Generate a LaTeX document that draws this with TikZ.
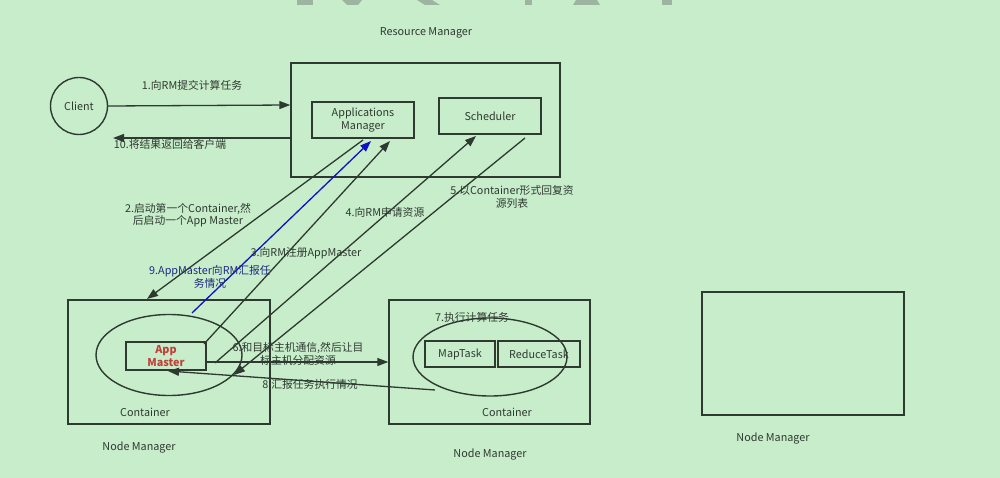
\documentclass[tikz,border=0pt]{standalone}
\usepackage{fontspec}
\setmainfont{Noto Sans CJK SC}
\usetikzlibrary{arrows.meta,shapes.geometric}
\definecolor{bg}{HTML}{C8EDCB}
\definecolor{ln}{HTML}{2E3A30}
\definecolor{txt}{HTML}{2F3A31}
\definecolor{wm}{HTML}{9DB5A0}
\definecolor{amred}{HTML}{C0403A}
\definecolor{navy}{HTML}{1F2A80}
\definecolor{blueline}{HTML}{1010C8}
\tikzset{
  box/.style={draw=ln,line width=1.4pt,inner sep=0pt},
  lbl/.style={text=txt,font=\fontsize{10.8}{12.5}\selectfont,inner sep=0pt,align=center},
  arr/.style={draw=ln,line width=1.3pt,-{Triangle[length=11pt,width=8pt]}},
  ell/.style={draw=ln,line width=1.4pt,ellipse,inner sep=0pt}
}
\begin{document}
\begin{tikzpicture}[x=1pt,y=-1pt]
\fill[bg] (0,0) rectangle (1000,478);
\useasboundingbox (0,0) rectangle (1000,478);
% watermark fragments
\fill[wm] (297,0) rectangle (313,5);
\fill[wm] (342,0) -- (362,0) -- (358,5) -- (347,5) -- cycle;
\fill[wm] (417,0) -- (432,0) -- (440,5) -- (425,5) -- cycle;
\fill[wm] (525,0) rectangle (532,5);
\fill[wm] (576,0) -- (597,0) -- (600,5) -- (573,5) -- cycle;
\fill[wm] (662,0) rectangle (672,5);

% Resource Manager
\node[lbl] (rmlbl) at (426,33) {Resource Manager};
\node[box,minimum width=269pt,minimum height=114pt] (rm) at (425.5,120) {};
\node[box,minimum width=102pt,minimum height=36pt,lbl,draw=ln] (am) at (363,120) {Applications\\Manager};
\node[box,minimum width=102pt,minimum height=36pt,lbl,draw=ln] (sch) at (490,116) {Scheduler};

% Client
\node[draw=ln,line width=1.4pt,circle,minimum size=57pt,lbl] (client) at (79,106) {Client};

% Node Manager 1
\node[box,minimum width=202pt,minimum height=124pt] (nm1) at (169,362) {};
\node[ell,minimum width=146pt,minimum height=81pt] (ell1) at (169,355) {};
\node[box,minimum width=80pt,minimum height=28pt,align=center,text=amred,font=\fontsize{10.8}{12.5}\selectfont\bfseries] (app) at (166,356) {App\\Master};
\node[lbl] (c1) at (145,412) {Container};
\node[lbl] (nm1lbl) at (139,448) {Node Manager};

% Node Manager 2
\node[box,minimum width=201pt,minimum height=124pt] (nm2) at (489.5,362) {};
\node[ell,minimum width=154pt,minimum height=78pt] (ell2) at (490,357) {};
\node[box,minimum width=70pt,minimum height=26pt,lbl,draw=ln] (map) at (460,354) {MapTask};
\node[box,minimum width=82pt,minimum height=26pt,lbl,draw=ln] (red) at (539,354) {ReduceTask};
\node[lbl] (c2) at (507,412) {Container};
\node[lbl] (nm2lbl) at (490,455) {Node Manager};
\node[lbl] (l7) at (472,317) {7.执行计算任务};

% Node Manager 3
\node[box,minimum width=202pt,minimum height=123pt] (nm3) at (803,353.5) {};
\node[lbl] (nm3lbl) at (773,439) {Node Manager};

% coordinates for connector ends
\coordinate (a2s) at (363,140);
\coordinate (a2e) at (147,299);
\coordinate (a9s) at (192,313);
\coordinate (a9e) at (371,141);
\coordinate (a3s) at (204,344);
\coordinate (a3e) at (390,141);
\coordinate (a4s) at (215,363);
\coordinate (a4e) at (476,136);
\coordinate (a5s) at (525,138);
\coordinate (a5e) at (234,375);
\coordinate (a6s) at (206,362);
\coordinate (a6e) at (nm2.west |- 0,362);
\coordinate (a8s) at (435,390);
\coordinate (a8e) at (168,371);
\coordinate (a1s) at (client.east);
\coordinate (a1e) at (rm.west |- 0,105);
\coordinate (a10s) at (rm.west |- 0,138);
\coordinate (a10e) at (113,138);

% connectors
\draw[arr] (a1s) -- (a1e);
\draw[arr] (a10s) -- (a10e);
\draw[arr] (a2s) -- (a2e);
\draw[arr,draw=blueline,-{Triangle[length=11pt,width=8pt]}] (a9s) -- (a9e);
\draw[arr] (a3s) -- (a3e);
\draw[arr] (a4s) -- (a4e);
\draw[arr] (a5s) -- (a5e);
\draw[arr] (a6s) -- (a6e);
\draw[arr] (a8s) -- (a8e);

% labels
\node[lbl] (l1) at (192,85) {1.向RM提交计算任务};
\node[lbl] (l10) at (170,144) {10.将结果返回给客户端};
\node[lbl] (l2) at (188,215) {2.启动第一个Container,然\\后启动一个App Master};
\node[lbl] (l3) at (306,253) {3.向RM注册AppMaster};
\node[lbl] (l4) at (385,212) {4.向RM申请资源};
\node[lbl] (l5) at (512,197) {5.以Container形式回复资\\源列表};
\node[lbl,text=navy] (l9) at (210,277) {9.AppMaster向RM汇报任\\务情况};
\node[lbl] (l6) at (298,354) {6.和目标主机通信,然后让目\\标主机分配资源};
\node[lbl] (l8) at (310,384) {8.汇报任务执行情况};
\end{tikzpicture}
\end{document}
